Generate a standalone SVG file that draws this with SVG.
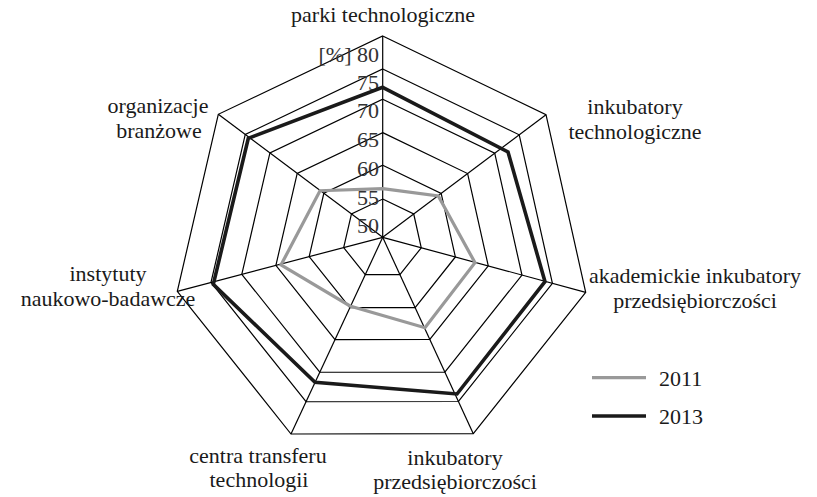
<svg xmlns="http://www.w3.org/2000/svg" width="817" height="497" viewBox="0 0 817 497">
<style>
.ring{fill:none;stroke:#000;stroke-width:1.2}
.spoke{stroke:#000;stroke-width:1.2}
.lbl{font-size:22px;fill:#1a1a1a}
.tick{font-size:22px;fill:#333;text-anchor:end}
.s2011{fill:none;stroke:#999;stroke-width:3.2;stroke-linejoin:miter}
.s2013{fill:none;stroke:#1a1a1a;stroke-width:3.6;stroke-linejoin:miter}
</style>
<rect width="817" height="497" fill="#fff"/>
<g id="grid">
<polygon class="ring" points="382.7,199.05 413.73,214.01 421.27,247.75 399.91,274.62 365.28,274.67 343.67,247.56 351.46,213.93"/>
<polygon class="ring" points="382.7,165.23 441.16,193.41 455.37,256.99 415.13,307.61 349.87,307.72 309.17,256.63 323.84,193.27"/>
<polygon class="ring" points="382.7,132.62 467.62,173.55 488.26,265.9 429.81,339.43 335.02,339.58 275.89,265.38 297.21,173.34"/>
<polygon class="ring" points="382.7,99.21 494.72,153.2 521.96,275.03 444.85,372.03 319.79,372.24 241.8,274.34 269.92,152.92"/>
<polygon class="ring" points="382.7,69.01 519.22,134.81 552.41,283.28 458.44,401.49 306.04,401.74 210.99,282.44 245.26,134.47"/>
<polygon class="ring" points="382.7,36 546,114.7 585.7,292.3 473.3,433.7 291,434 177.3,291.3 218.3,114.3"/>
<line class="spoke" x1="382.7" y1="237.3" x2="382.7" y2="36"/>
<line class="spoke" x1="382.7" y1="237.3" x2="546" y2="114.7"/>
<line class="spoke" x1="382.7" y1="237.3" x2="585.7" y2="292.3"/>
<line class="spoke" x1="382.7" y1="237.3" x2="473.3" y2="433.7"/>
<line class="spoke" x1="382.7" y1="237.3" x2="291" y2="434"/>
<line class="spoke" x1="382.7" y1="237.3" x2="177.3" y2="291.3"/>
<line class="spoke" x1="382.7" y1="237.3" x2="218.3" y2="114.3"/>
</g>
<g id="ticks" font-family="Liberation Serif, DejaVu Serif, serif">
<text class="tick" x="379" y="61.5">[%] 80</text>
<text class="tick" x="379" y="89.5">75</text>
<text class="tick" x="379" y="118">70</text>
<text class="tick" x="379" y="147">65</text>
<text class="tick" x="379" y="176">60</text>
<text class="tick" x="379" y="205">55</text>
<text class="tick" x="379" y="233">50</text>
</g>
<g id="connectors">
<polygon id="series-2011" class="s2011" points="382.7,188.7 438.3,196 475,262.7 425,327.7 350,306 281,265 320,190.7"/>
<polygon id="series-2013" class="s2013" points="382.7,87.3 508,152 545,281.7 457,394 315,382.3 213.3,284.3 248.3,138.3"/>
</g>
<g id="labels" font-family="Liberation Serif, DejaVu Serif, serif" text-anchor="middle">
<g id="node-parki"><text class="lbl" x="383" y="22">parki technologiczne</text></g>
<g id="node-inkub-tech"><text class="lbl" x="635" y="114">inkubatory</text><text class="lbl" x="635" y="139">technologiczne</text></g>
<g id="node-akad"><text class="lbl" x="695" y="283">akademickie inkubatory</text><text class="lbl" x="695" y="308">przedsiębiorczości</text></g>
<g id="node-inkub-przed"><text class="lbl" x="455" y="465">inkubatory</text><text class="lbl" x="455" y="489">przedsiębiorczości</text></g>
<g id="node-centra"><text class="lbl" x="258" y="463">centra transferu</text><text class="lbl" x="259" y="487">technologii</text></g>
<g id="node-instytuty"><text class="lbl" x="108" y="281">instytuty</text><text class="lbl" x="108" y="306">naukowo-badawcze</text></g>
<g id="node-organizacje"><text class="lbl" x="158" y="113">organizacje</text><text class="lbl" x="159" y="138">branżowe</text></g>
</g>
<g id="legend" font-family="Liberation Serif, DejaVu Serif, serif">
<line x1="592" y1="377.7" x2="646" y2="377.7" stroke="#999" stroke-width="3.2"/>
<text class="lbl" x="659" y="386">2011</text>
<line x1="592" y1="416" x2="646" y2="416" stroke="#1a1a1a" stroke-width="3.6"/>
<text class="lbl" x="659" y="424">2013</text>
</g>
</svg>
